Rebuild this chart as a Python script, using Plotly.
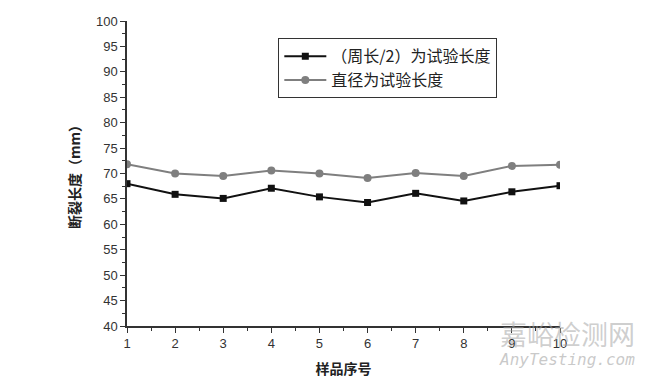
import plotly.graph_objects as go

samples = [1, 2, 3, 4, 5, 6, 7, 8, 9, 10]
half_perimeter = [68.0, 65.9, 65.1, 67.1, 65.4, 64.3, 66.1, 64.6, 66.4, 67.6]
diameter = [71.8, 70.0, 69.5, 70.6, 70.0, 69.1, 70.1, 69.5, 71.5, 71.7]
series_names = ["（周长/2）为试验长度", "直径为试验长度"]

fig = go.Figure()
fig.add_trace(go.Scatter(x=samples, y=half_perimeter, name=series_names[0], mode="lines+markers",
                         line=dict(color="#111111", width=2),
                         marker=dict(symbol="square", size=7, color="#111111")))
fig.add_trace(go.Scatter(x=samples, y=diameter, name=series_names[1], mode="lines+markers",
                         line=dict(color="#7f7f7f", width=2),
                         marker=dict(symbol="circle", size=8, color="#7f7f7f")))

cjk = "Noto Sans CJK SC"
fig.update_layout(
    width=650, height=381,
    margin=dict(l=119, r=98, t=13, b=63, autoexpand=False),
    paper_bgcolor="white", plot_bgcolor="white",
    font=dict(family="Liberation Sans, Arial", color="#333333", size=13),
    showlegend=True,
    legend=dict(x=0.349, y=0.944, xanchor="left", yanchor="top",
                bordercolor="#333333", borderwidth=1.2, bgcolor="white",
                font=dict(family=cjk, size=16, color="#222222"),
                tracegroupgap=0, itemwidth=42),
    xaxis=dict(range=[1, 10], tickvals=samples, showgrid=False, zeroline=False,
               showline=True, linecolor="#333333", linewidth=1.5,
               ticks="outside", ticklen=5, tickcolor="#333333",
               minor=dict(ticks="outside", ticklen=3, dtick=0.5, tickcolor="#333333"),
               title=dict(text="<b>样品序号</b>", font=dict(family=cjk, size=14, color="#222222"), standoff=14),
               tickfont=dict(size=13, color="#333333"), automargin=False),
    yaxis=dict(range=[40, 100], dtick=5, showgrid=False, zeroline=False,
               showline=True, linecolor="#333333", linewidth=1.5,
               ticks="outside", ticklen=5, tickcolor="#333333",
               minor=dict(ticks="outside", ticklen=3, dtick=2.5, tickcolor="#333333"),
               title=dict(text="<b>断裂长度（mm）</b>", font=dict(family=cjk, size=14, color="#222222"), standoff=12),
               tickfont=dict(size=13, color="#333333"), automargin=False),
)

fig.add_annotation(text="嘉峪检测网", xref="paper", yref="paper", x=1.178, y=0.045,
                   xanchor="right", yanchor="top", showarrow=False,
                   font=dict(family=cjk, size=27, color="rgba(165,165,165,0.55)"))
fig.add_annotation(text="<i>AnyTesting.com</i>", xref="paper", yref="paper", x=1.178, y=-0.072,
                   xanchor="right", yanchor="top", showarrow=False,
                   font=dict(family="DejaVu Sans Mono", size=16, color="rgba(165,165,165,0.6)"))

fig.write_html("out.html")
